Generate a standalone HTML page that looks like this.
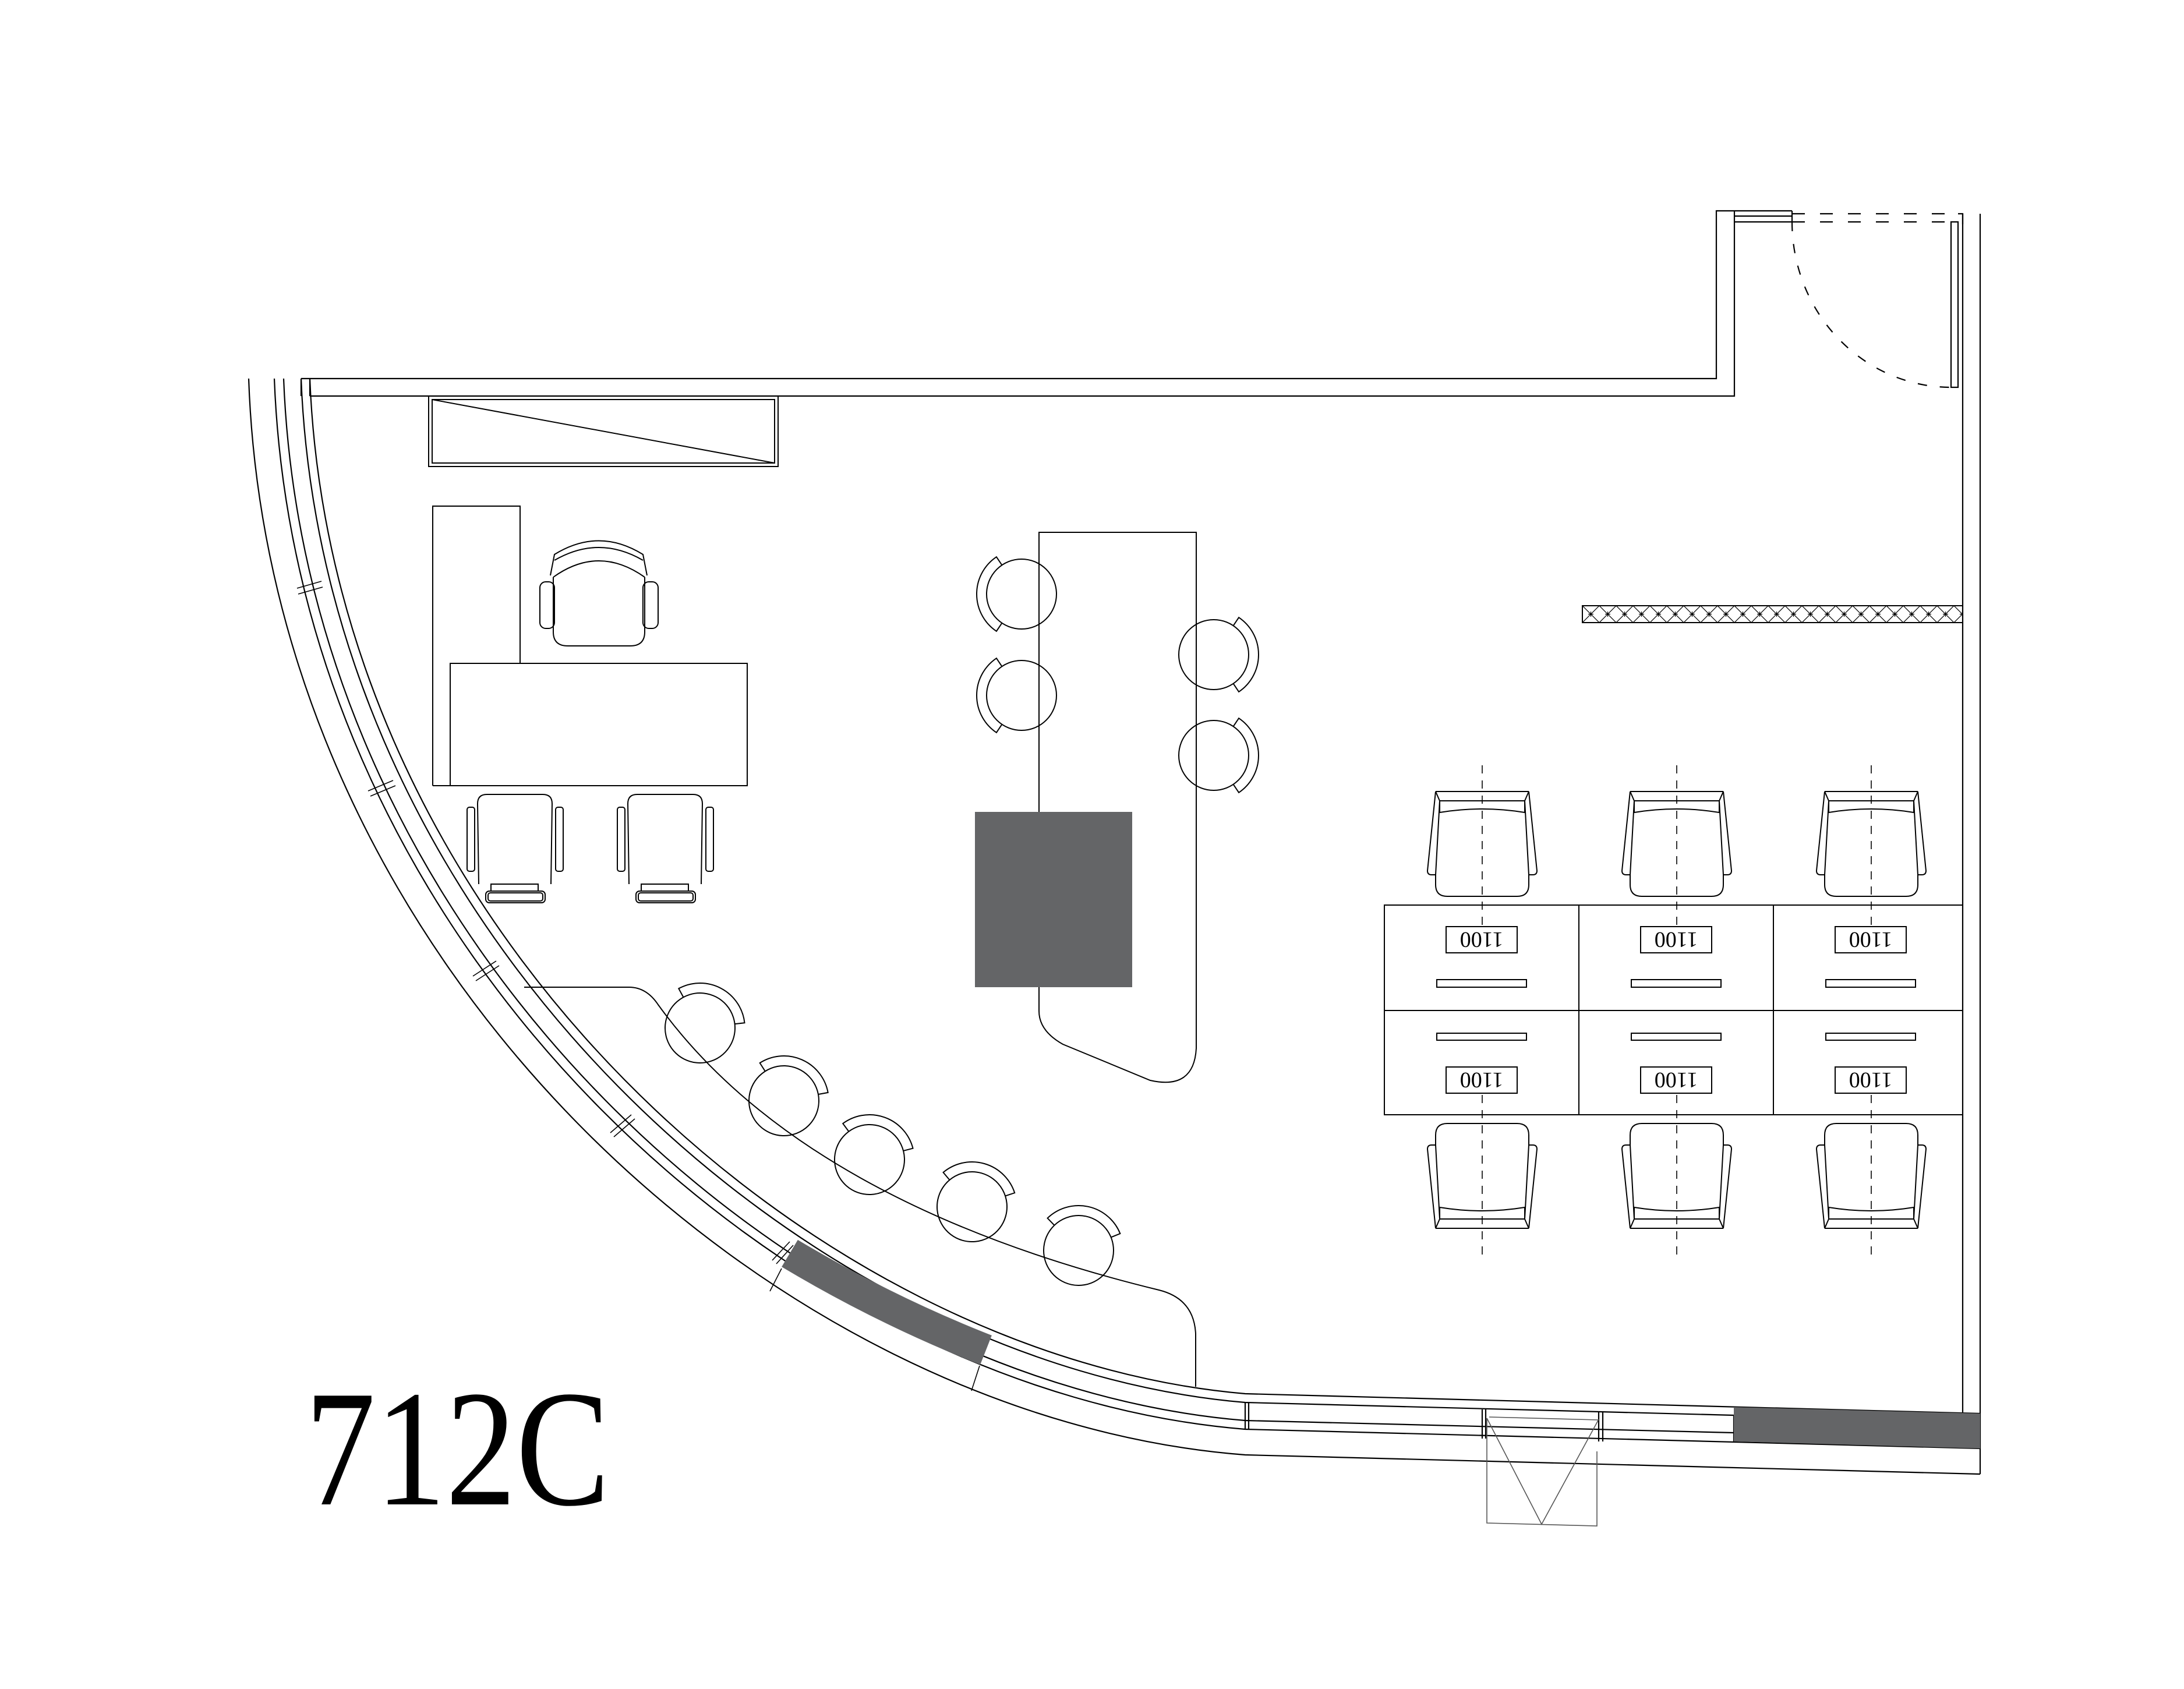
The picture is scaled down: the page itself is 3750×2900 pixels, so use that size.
<!DOCTYPE html>
<html><head><meta charset="utf-8"><style>html,body{margin:0;padding:0;background:#fff}svg{display:block}</style></head>
<body>
<svg xmlns="http://www.w3.org/2000/svg" width="3750" height="2900" viewBox="0 0 3750 2900">
<defs>
<pattern id="hx" width="29" height="29" patternUnits="userSpaceOnUse" x="2717" y="1040">
<path d="M0 0L29 29M29 0L0 29M10 14.5H19M14.5 10V19" stroke="#000" stroke-width="1.2" fill="none"/>
</pattern>
<g id="stool">
<circle r="60" fill="none" stroke="#000" stroke-width="2"/>
<path d="M-33.6 -49.7L-43.1 -63.8A77 77 0 0 0 -43.1 63.8L-33.6 49.7" fill="none" stroke="#000" stroke-width="2"/>
</g>
<g id="chair" fill="none" stroke="#000" stroke-width="2">
<path d="M-80 0L80 0"/>
<path d="M-80 0L-73 16M80 0L73 16"/>
<path d="M-73 16L73 16L73 36Q0 24 -73 36Z"/>
<path d="M-80 0L-94 136Q-94 143 -87 143L-80 143L-73 16"/>
<path d="M80 0L94 136Q94 143 87 143L80 143L73 16"/>
<path d="M-80 143L-80 160Q-80 180 -60 180L60 180Q80 180 80 160L80 143"/>
</g>
<g id="deskchair" fill="none" stroke="#000" stroke-width="2">
<path d="M2 154L0 16Q0 0 16 0L112 0Q128 0 128 16L126 154"/>
<rect x="-18" y="22" width="13" height="110" rx="4"/>
<rect x="134" y="22" width="13" height="110" rx="4"/>
<rect x="23" y="154" width="81" height="12"/>
<rect x="14" y="166" width="102" height="20" rx="6"/>
<rect x="18" y="169" width="94" height="14" rx="4"/>
</g>
</defs>
<rect width="3750" height="2900" fill="#fff"/>

<g fill="none" stroke="#000" stroke-width="2.2">
<path d="M517 650H2947V362H3077M532 680H2978V362M2978 371H3077M2978 381H3077M3077 362V381"/>
<path d="M517 650V680M532 650V680"/>
<path d="M3077 367H3365M3077 381H3350" stroke-dasharray="22 26"/>
<rect x="3350" y="381" width="12" height="284"/>
<path d="M3362 367H3370V385"/>
<path d="M3077 381A273 284 0 0 0 3350 665" stroke-dasharray="16 22"/>
<path d="M3370 367V2425M3400 367V2531"/>
<path d="M532 650C570 1600 1400 2330 2138 2393L3400 2427"/>
<path d="M517 650C555 1610 1390 2345 2138 2408L2977 2430"/>
<path d="M487 650C525 1630 1370 2376 2138 2439L2977 2460"/>
<path d="M471 650C509 1640 1360 2391 2138 2454L3400 2487"/>
<path d="M427 650C462 1660 1330 2436 2138 2498L3400 2531"/>
<path d="M2138 2408V2454M2144 2408V2454M2977 2430V2475M2545 2420V2470M2551 2420V2470M2745 2425V2475M2752 2425V2475"/>
<g stroke-width="1.6">
<path d="M510 1010L552 998M512 1020L554 1008"/>
<path d="M632 1358L675 1340M636 1367L679 1349"/>
<path d="M812 1676L852 1650M817 1684L857 1658"/>
<path d="M1048 1945L1084 1914M1054 1952L1090 1921"/>
<path d="M1326 2164L1356 2132M1333 2170L1362 2138"/>
<path d="M1342 2178L1322 2217M1682 2345L1668 2388"/>
</g>
</g>
<path d="M1356 2152Q1520 2250 1693 2318" fill="none" stroke="#646567" stroke-width="54"/>
<path d="M2977 2416L3400 2427L3400 2487L2977 2475Z" fill="#646567"/>

<g fill="none" stroke="#555" stroke-width="1.6">
<path d="M2553 2435V2615L2742 2620V2492M2553 2435L2647 2617L2745 2437M2557 2433L2745 2438"/>
</g>

<g fill="none" stroke="#000" stroke-width="2">
<rect x="736" y="680" width="600" height="121"/>
<rect x="742" y="686" width="588" height="109"/>
<path d="M742 686L1330 795"/>
<path d="M743 1349V869H893V1139"/>
<rect x="773" y="1139" width="510" height="210"/>
<path d="M743 1349H773"/>
<path d="M945 988L952 952Q1028 905 1104 952L1111 988"/>
<path d="M952 962Q1028 918 1104 962"/>
<path d="M950 991Q1028 935 1107 991"/>
<rect x="927" y="999" width="25" height="80" rx="10"/>
<rect x="1104" y="999" width="26" height="80" rx="10"/>
<path d="M950 991L950 1085Q950 1109 975 1109L1082 1109Q1107 1109 1107 1085L1107 991"/>
</g>
<use href="#deskchair" x="820" y="1364"/>
<use href="#deskchair" x="1078" y="1364"/>

<path d="M1784 914H2054V1800Q2050 1872 1975 1855L1825 1793Q1784 1770 1784 1736Z" fill="none" stroke="#000" stroke-width="2"/>
<use href="#stool" x="1754" y="1020"/>
<use href="#stool" x="1754" y="1194"/>
<use href="#stool" transform="translate(2084 1124) rotate(180)"/>
<use href="#stool" transform="translate(2084 1297) rotate(180)"/>
<rect x="1674" y="1394" width="270" height="301" fill="#646567"/>

<path d="M900 1695L1080 1695Q1110 1695 1130 1725C1300 1960 1600 2120 1990 2215Q2050 2230 2053 2290L2053 2381" fill="none" stroke="#000" stroke-width="2"/>
<use href="#stool" transform="translate(1202 1765) rotate(117.5)"/>
<use href="#stool" transform="translate(1346 1890) rotate(113.5)"/>
<use href="#stool" transform="translate(1493 1991) rotate(109.5)"/>
<use href="#stool" transform="translate(1669 2072) rotate(106)"/>
<use href="#stool" transform="translate(1852 2147) rotate(102)"/>

<rect x="2717" y="1040" width="653" height="29" fill="url(#hx)" stroke="#000" stroke-width="2"/>

<g fill="none" stroke="#000" stroke-width="2">
<rect x="2377" y="1554" width="993" height="360"/>
<path d="M2377 1735H3370M2711 1554V1914M3045 1554V1914"/>
</g>
<g fill="none" stroke="#000" stroke-width="1.6" stroke-dasharray="14 12">
<path d="M2545 1314V1590M2879 1314V1590M3213 1314V1590"/>
<path d="M2545 1880V2160M2879 1880V2160M3213 1880V2160"/>
</g>
<g id="col1">
<use href="#chair" x="2545" y="1359"/>
<use href="#chair" transform="translate(2545 2109) scale(1 -1)"/>
<rect x="2483" y="1591" width="122" height="45" fill="#fff" stroke="#000" stroke-width="2"/>
<rect x="2483" y="1832" width="122" height="45" fill="#fff" stroke="#000" stroke-width="2"/>
<rect x="2467" y="1682" width="154" height="13" fill="none" stroke="#000" stroke-width="2"/>
<rect x="2467" y="1774" width="154" height="12" fill="none" stroke="#000" stroke-width="2"/>
<text transform="translate(2544 1613) rotate(180)" text-anchor="middle" dominant-baseline="central" font-family="Liberation Serif, serif" font-size="38">1100</text>
<text transform="translate(2544 1854) rotate(180)" text-anchor="middle" dominant-baseline="central" font-family="Liberation Serif, serif" font-size="38">1100</text>
</g>
<use href="#col1" x="334"/>
<use href="#col1" x="668"/>

<text x="524" y="2583" font-family="Liberation Serif, serif" font-size="285" textLength="523" lengthAdjust="spacingAndGlyphs" fill="#000">712C</text>
</svg>
</body></html>
